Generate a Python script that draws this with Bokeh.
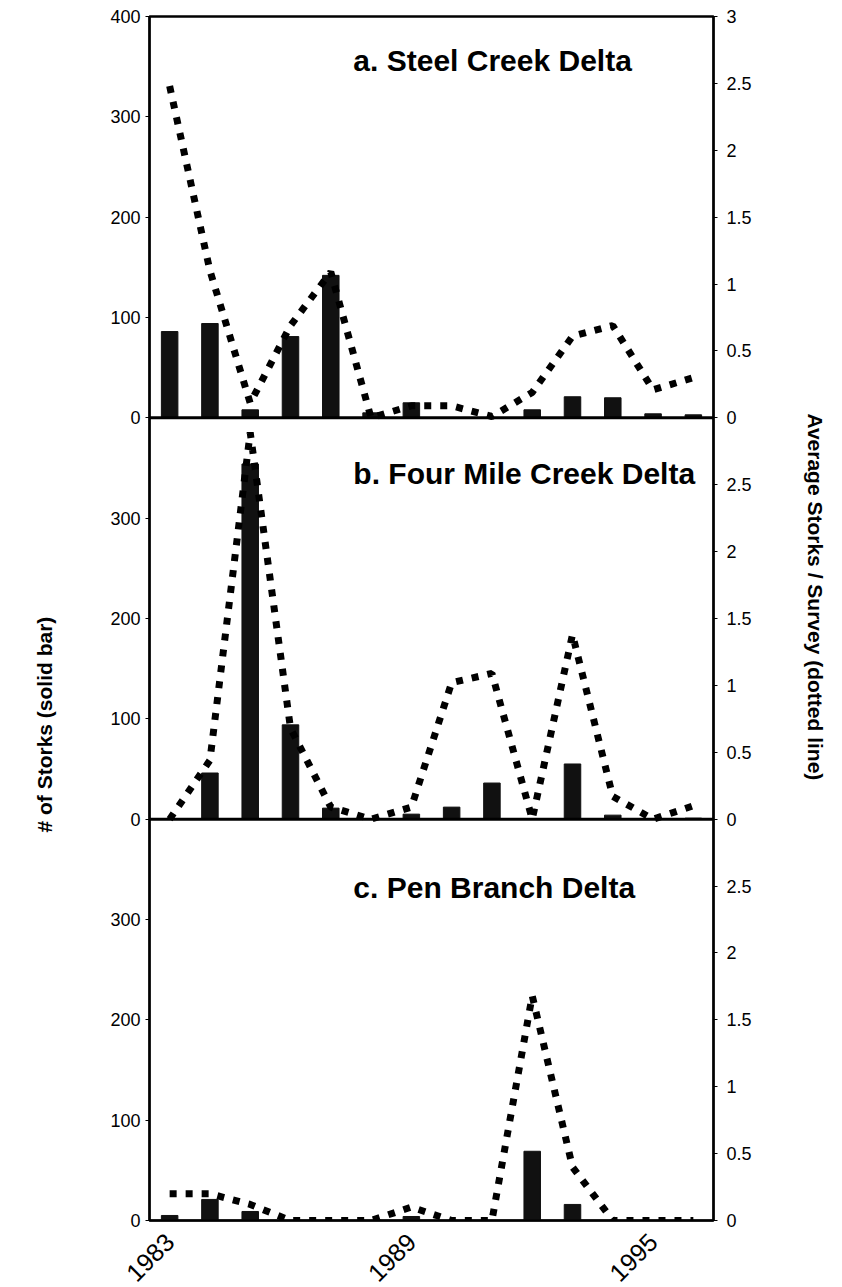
from bokeh.plotting import figure
from bokeh.models import Range1d, LinearAxis, FixedTicker, Label, Span, Title, CustomJSTickFormatter
from bokeh.embed import file_html
from bokeh.resources import INLINE
from math import pi

# ---- data ----
years = list(range(1983, 1997))
steel_bars = [86, 94, 8, 81, 142, 5, 15, 0, 0, 8, 21, 20, 4, 3]
steel_avg = [2.48, 1.1, 0.11, 0.69, 1.09, 0.0, 0.09, 0.09, 0.01, 0.19, 0.61, 0.69, 0.21, 0.30]
four_bars = [0, 46, 354, 94, 11, 0, 5, 12, 36, 0, 55, 4, 0, 1]
four_avg = [0.0, 0.44, 2.89, 0.68, 0.09, 0.0, 0.09, 1.02, 1.09, 0.0, 1.38, 0.17, 0.0, 0.1]
pen_bars = [5, 21, 9, 0, 0, 0, 4, 0, 0, 69, 16, 0, 0, 0]
pen_avg = [0.2, 0.2, 0.12, 0.0, 0.0, 0.0, 0.1, 0.0, 0.0, 1.68, 0.4, 0.0, 0.0, 0.0]

titles = ["a. Steel Creek Delta", "b. Four Mile Creek Delta", "c. Pen Branch Delta"]
title_y = [356, 345, 332]
x_ticks = [1983, 1989, 1995]
left_max = 400      # storks per panel
right_max = 3       # average storks per panel

FONT = "Liberation Sans"
panels = [(steel_bars, steel_avg), (four_bars, four_avg), (pen_bars, pen_avg)]
n = len(panels)

p = figure(
    frame_width=564, frame_height=1204,
    x_range=Range1d(1982.5, 1996.5), y_range=Range1d(0, left_max * n),
    output_backend="svg", toolbar_location=None,
    min_border_left=149, min_border_right=120,
    min_border_top=16, min_border_bottom=0,
    background_fill_color="white", border_fill_color="white",
)
p.grid.visible = False
p.outline_line_color = "black"
p.outline_line_width = 2.5

for i, (bars, avg) in enumerate(panels):
    k = n - 1 - i  # panel position from bottom
    lname, rname = "l%d" % i, "r%d" % i
    p.extra_y_ranges[lname] = Range1d(-left_max * k, left_max * (n - k))
    p.extra_y_ranges[rname] = Range1d(-right_max * k, right_max * (n - k))
    p.vbar(x=years, top=bars, bottom=0, width=0.41, color="#111111", y_range_name=lname)
    p.line(x=years, y=avg, y_range_name=rname, line_color="black",
           line_width=7, line_dash="7 9")
    p.add_layout(Label(x=1987.56, y=title_y[i], y_range_name=lname, text=titles[i],
                       text_font=FONT, text_font_size="30px", text_font_style="bold",
                       text_baseline="middle", text_align="left", text_color="black"))
    if k > 0:
        p.add_layout(Span(location=0, dimension="width", y_range_name=lname,
                          line_color="black", line_width=3))

# left axis (labels restart at each panel)
ya = p.yaxis[0]
ya.ticker = FixedTicker(ticks=list(range(0, left_max * n + 1, 100)))
ya.formatter = CustomJSTickFormatter(
    args=dict(m=left_max, top=left_max * n),
    code="if (tick >= top) return String(m); return String(Math.round(tick % m));")
ya.minor_tick_line_color = None
ya.major_tick_out = 4
ya.major_tick_in = 0
ya.major_label_standoff = 5
ya.axis_line_width = 2
ya.major_label_text_font = FONT
ya.major_label_text_font_size = "18px"
ya.major_label_text_color = "black"

# right axis
p.extra_y_ranges["rall"] = Range1d(0, right_max * n)
ra = LinearAxis(y_range_name="rall")
ra.ticker = FixedTicker(ticks=[j * 0.5 for j in range(0, 2 * right_max * n + 1)])
ra.formatter = CustomJSTickFormatter(
    args=dict(m=right_max, top=right_max * n),
    code="if (tick >= top - 1e-9) return String(m); var v = Math.round((tick % m) * 10) / 10; return String(v);")
ra.minor_tick_line_color = None
ra.major_tick_out = 4
ra.major_tick_in = 0
ra.major_label_standoff = 9
ra.axis_line_width = 2
ra.major_label_text_font = FONT
ra.major_label_text_font_size = "18px"
ra.major_label_text_color = "black"
p.add_layout(ra, "right")

# x axis
xa = p.xaxis[0]
xa.ticker = FixedTicker(ticks=x_ticks)
xa.minor_tick_line_color = None
xa.major_tick_out = 0
xa.major_tick_in = 0
xa.axis_line_width = 2
xa.major_label_orientation = pi / 4
xa.major_label_text_font = FONT
xa.major_label_text_font_size = "25px"
xa.major_label_text_color = "black"
xa.major_label_standoff = 17

# axis titles (a blank spacer title pushes each title away from its axis)
p.add_layout(Title(text=" ", standoff=27, text_font_size="21px"), "left")
p.add_layout(Title(text="# of Storks (solid bar)", align="left", offset=388, standoff=0,
                   text_font=FONT, text_font_size="21px", text_font_style="bold",
                   text_color="black"), "left")
p.add_layout(Title(text=" ", standoff=24, text_font_size="21px"), "right")
p.add_layout(Title(text="Average Storks / Survey (dotted line)", align="left", offset=397,
                   standoff=0,
                   text_font=FONT, text_font_size="21px", text_font_style="bold",
                   text_color="black"), "right")

open("out.html", "w").write(file_html(p, INLINE))
